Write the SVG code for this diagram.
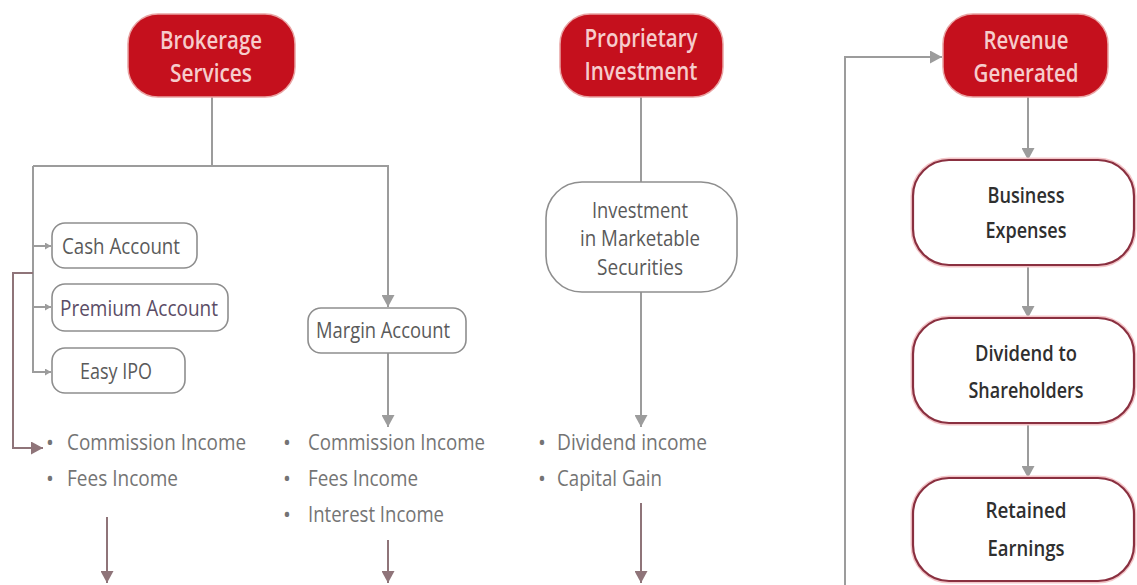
<svg xmlns="http://www.w3.org/2000/svg" width="1137" height="585" viewBox="0 0 1137 585">
<style>
.bg{fill:#ffffff}
.red{fill:#c5101d;stroke:#e9a3a3;stroke-width:1.5}
.redt{font-family:"Open Sans","Liberation Sans",sans-serif;font-size:26px;font-weight:600;fill:#f6cccc;text-anchor:middle}
.box{fill:#ffffff;stroke:#8e8e8e;stroke-width:1.6}
.boxt{font-family:"Open Sans","Liberation Sans",sans-serif;font-size:22px;fill:#5a5a5a}
.rbox{fill:#ffffff;stroke:#8a3040;stroke-width:2.2}
.rboxh{fill:none;stroke:#f4c6c9;stroke-width:5}
.rt{font-family:"Open Sans","Liberation Sans",sans-serif;font-size:22px;font-weight:600;fill:#2f2f2f;text-anchor:middle}
.bul{font-family:"Open Sans","Liberation Sans",sans-serif;font-size:21px;fill:#747474}
.g{fill:none;stroke:#9c9c9c;stroke-width:2}
.b{fill:none;stroke:#8f7479;stroke-width:2}
</style>
<defs>
<marker id="ag" markerUnits="userSpaceOnUse" markerWidth="13" markerHeight="13" refX="12" refY="6.5" orient="auto"><path d="M0,0 L12,6.5 L0,13 z" fill="#9c9c9c"/></marker>
<marker id="as" markerUnits="userSpaceOnUse" markerWidth="7" markerHeight="7" refX="6" refY="3.5" orient="auto"><path d="M0,0 L6,3.5 L0,7 z" fill="#9c9c9c"/></marker>
<marker id="ab" markerUnits="userSpaceOnUse" markerWidth="13" markerHeight="13" refX="12" refY="6.5" orient="auto"><path d="M0,0 L12,6.5 L0,13 z" fill="#8f7479"/></marker>
</defs>
<rect class="bg" x="0" y="0" width="1137" height="585"/>

<g id="connectors">
<path class="g" d="M212,97 V166"/>
<path class="g" d="M33,166 H388 V307" marker-end="url(#ag)"/>
<path class="g" d="M33,166 V372 H51" marker-end="url(#as)"/>
<path class="g" d="M33,246 H51" marker-end="url(#as)"/>
<path class="g" d="M33,307 H51" marker-end="url(#as)"/>
<path class="g" d="M388,353 V427" marker-end="url(#ag)"/>
<path class="g" d="M641,97 V182"/>
<path class="g" d="M641,292 V427" marker-end="url(#ag)"/>
<path class="g" d="M1028,97 V160" marker-end="url(#ag)"/>
<path class="g" d="M1028,265 V318" marker-end="url(#ag)"/>
<path class="g" d="M1028,423 V478" marker-end="url(#ag)"/>
<path class="g" d="M845,585 V57 H942" marker-end="url(#ag)"/>
<path class="b" d="M33,273 H13 V448 H43" marker-end="url(#ab)"/>
<path class="b" d="M107,517 V583" marker-end="url(#ab)"/>
<path class="b" d="M388,540 V583" marker-end="url(#ab)"/>
<path class="b" d="M641,503 V583" marker-end="url(#ab)"/>
</g>

<g id="brokerage">
<rect class="red" x="128" y="14" width="167" height="83" rx="30"/>
<text class="redt" x="211" y="49" textLength="102" lengthAdjust="spacingAndGlyphs">Brokerage</text>
<text class="redt" x="211" y="82" textLength="82" lengthAdjust="spacingAndGlyphs">Services</text>
</g>
<g id="proprietary">
<rect class="red" x="560" y="14" width="163" height="83" rx="30"/>
<text class="redt" x="641" y="47" textLength="113" lengthAdjust="spacingAndGlyphs">Proprietary</text>
<text class="redt" x="641" y="80" textLength="113" lengthAdjust="spacingAndGlyphs">Investment</text>
</g>
<g id="revenue">
<rect class="red" x="943" y="14" width="165" height="83" rx="30"/>
<text class="redt" x="1026" y="49" textLength="85" lengthAdjust="spacingAndGlyphs">Revenue</text>
<text class="redt" x="1026" y="82" textLength="105" lengthAdjust="spacingAndGlyphs">Generated</text>
</g>

<g id="cash">
<rect class="box" x="52" y="223" width="145" height="45" rx="13"/>
<text class="boxt" x="62" y="254" textLength="118" lengthAdjust="spacingAndGlyphs">Cash Account</text>
</g>
<g id="premium">
<rect class="box" x="52" y="284" width="176" height="47" rx="13"/>
<text class="boxt" x="60" y="316" textLength="158" lengthAdjust="spacingAndGlyphs" style="fill:#5b4d66">Premium Account</text>
</g>
<g id="easyipo">
<rect class="box" x="52" y="348" width="133" height="45" rx="13"/>
<text class="boxt" x="80" y="379" textLength="72" lengthAdjust="spacingAndGlyphs">Easy IPO</text>
</g>
<g id="margin">
<rect class="box" x="308" y="308" width="158" height="45" rx="13"/>
<text class="boxt" x="316" y="338" textLength="134" lengthAdjust="spacingAndGlyphs">Margin Account</text>
</g>
<g id="investment">
<rect class="box" x="546" y="182" width="191" height="110" rx="36"/>
<text class="boxt" x="640" y="218" text-anchor="middle" textLength="96" lengthAdjust="spacingAndGlyphs">Investment</text>
<text class="boxt" x="640" y="246" text-anchor="middle" textLength="120" lengthAdjust="spacingAndGlyphs">in Marketable</text>
<text class="boxt" x="640" y="275" text-anchor="middle" textLength="86" lengthAdjust="spacingAndGlyphs">Securities</text>
</g>

<g id="business">
<rect class="rboxh" x="913" y="160" width="221" height="105" rx="36"/>
<rect class="rbox" x="913" y="160" width="221" height="105" rx="36"/>
<text class="rt" x="1026" y="203" textLength="77" lengthAdjust="spacingAndGlyphs">Business</text>
<text class="rt" x="1026" y="238" textLength="81" lengthAdjust="spacingAndGlyphs">Expenses</text>
</g>
<g id="dividend">
<rect class="rboxh" x="913" y="318" width="221" height="105" rx="36"/>
<rect class="rbox" x="913" y="318" width="221" height="105" rx="36"/>
<text class="rt" x="1026" y="361" textLength="102" lengthAdjust="spacingAndGlyphs">Dividend to</text>
<text class="rt" x="1026" y="398" textLength="115" lengthAdjust="spacingAndGlyphs">Shareholders</text>
</g>
<g id="retained">
<rect class="rboxh" x="913" y="478" width="221" height="103" rx="36"/>
<rect class="rbox" x="913" y="478" width="221" height="103" rx="36"/>
<text class="rt" x="1026" y="518" textLength="81" lengthAdjust="spacingAndGlyphs">Retained</text>
<text class="rt" x="1026" y="556" textLength="77" lengthAdjust="spacingAndGlyphs">Earnings</text>
</g>

<g id="income-brokerage">
<text class="bul" x="46" y="450">•</text>
<text class="bul" x="67" y="450" textLength="179" lengthAdjust="spacingAndGlyphs">Commission Income</text>
<text class="bul" x="46" y="486">•</text>
<text class="bul" x="67" y="486" textLength="111" lengthAdjust="spacingAndGlyphs">Fees Income</text>
</g>
<g id="income-margin">
<text class="bul" x="283" y="450">•</text>
<text class="bul" x="308" y="450" textLength="177" lengthAdjust="spacingAndGlyphs">Commission Income</text>
<text class="bul" x="283" y="486">•</text>
<text class="bul" x="308" y="486" textLength="110" lengthAdjust="spacingAndGlyphs">Fees Income</text>
<text class="bul" x="283" y="522">•</text>
<text class="bul" x="308" y="522" textLength="136" lengthAdjust="spacingAndGlyphs">Interest Income</text>
</g>
<g id="income-investment">
<text class="bul" x="538" y="450">•</text>
<text class="bul" x="557" y="450" textLength="150" lengthAdjust="spacingAndGlyphs">Dividend income</text>
<text class="bul" x="538" y="486">•</text>
<text class="bul" x="557" y="486" textLength="105" lengthAdjust="spacingAndGlyphs">Capital Gain</text>
</g>
</svg>
